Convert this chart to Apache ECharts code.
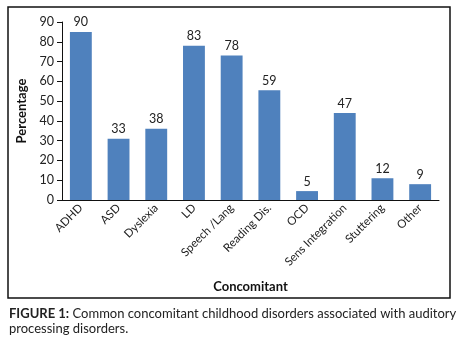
<!DOCTYPE html>
<html>
<head>
<meta charset="utf-8">
<script src="https://cdn.jsdelivr.net/npm/echarts@6/dist/echarts.min.js"></script>
<style>
html,body{margin:0;padding:0;background:#fff;}
#main{width:461px;height:338px;}
</style>
</head>
<body>
<div id="main"></div>
<script>
var categories = ['ADHD','ASD','Dyslexia','LD','Speech /Lang','Reading Dis.','OCD','Sens Integration','Stuttering','Other'];
// bar heights (percentage) as drawn
var percent = [85, 31, 36, 78, 73, 55.5, 4.5, 44, 11, 8];
// numbers printed above the bars
var counts = [90, 33, 38, 83, 78, 59, 5, 47, 12, 9];
var yTicks = [0, 90, 10];

var chart = echarts.init(document.getElementById('main'));
chart.setOption({
    animation: false,
    textStyle: {fontFamily: 'Lato'},
    grid: {left: 62, right: 22, top: 22, bottom: 138},
    graphic: [
        {type: 'rect', shape: {x: 8, y: 7, width: 442, height: 291},
         style: {fill: 'none', stroke: '#111', lineWidth: 1.5}},
        {type: 'text', left: 9, top: 306,
         style: {
             text: '{b|FIGURE 1:} Common concomitant childhood disorders associated with auditory\nprocessing disorders.',
             font: '13px Lato', fill: '#222', lineHeight: 15,
             rich: {b: {fontWeight: 'bold', fontSize: 13, fontFamily: 'Lato', fill: '#222'}}
         }}
    ],
    xAxis: {
        type: 'category',
        data: categories,
        name: 'Concomitant',
        nameLocation: 'middle',
        nameGap: 80,
        nameTextStyle: {fontWeight: 'bold', fontSize: 13, color: '#111'},
        axisLine: {lineStyle: {color: '#111'}},
        axisTick: {lineStyle: {color: '#111'}, length: 5},
        axisLabel: {rotate: 45, fontSize: 11.5, color: '#222', margin: 6, interval: 0}
    },
    yAxis: {
        type: 'value',
        min: yTicks[0], max: yTicks[1], interval: yTicks[2],
        name: 'Percentage',
        nameLocation: 'middle',
        nameGap: 33,
        nameTextStyle: {fontWeight: 'bold', fontSize: 13, color: '#111'},
        axisLine: {show: true, lineStyle: {color: '#111'}},
        axisTick: {show: true, lineStyle: {color: '#111'}, length: 5},
        axisLabel: {fontSize: 12.5, color: '#222', margin: 8},
        splitLine: {show: false}
    },
    series: [{
        type: 'bar',
        data: percent,
        barCategoryGap: '42%',
        itemStyle: {color: '#4F81BD'},
        label: {
            show: true, position: 'top', fontSize: 12.5, color: '#222', distance: 3,
            formatter: function (p) { return counts[p.dataIndex]; }
        }
    }]
});
</script>
</body>
</html>
